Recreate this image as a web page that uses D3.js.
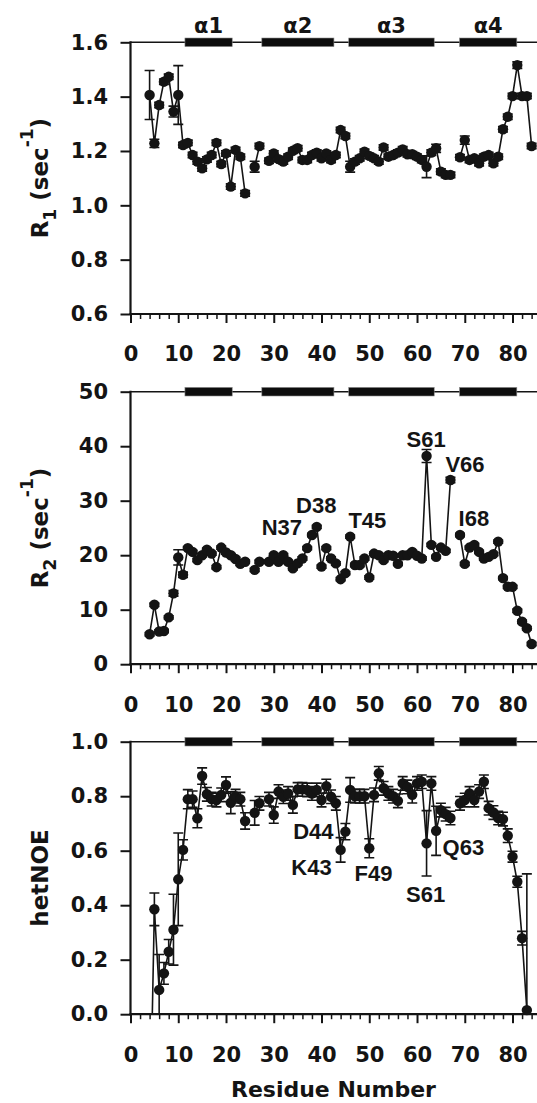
<!DOCTYPE html>
<meta charset="utf-8">
<script src="https://d3js.org/d3.v7.min.js"></script>
<body style="margin:0;background:#fff">
<div id="chart"></div>
<script>

// residue numbers as plotted on the x axis
var residues = [4,5,6,7,8,9,10,11,12,13,
  14,15,16,17,18,19,20,21,22,23,
  24,25,26,27,28,29,30,31,32,33,
  34,35,36,37,38,39,40,41,42,43,
  44,45,46,47,48,49,50,51,52,53,
  54,55,56,57,58,59,60,61,62,63,
  64,65,66,67,68,69,70,71,72,73,
  74,75,76,77,78,79,80,81,82,83,
  84];

var r1 = [1.406,1.228,1.369,1.455,1.473,1.345,1.406,1.222,1.230,1.185,
  1.161,1.136,1.169,1.185,1.230,1.152,1.191,1.069,1.204,1.179,
  1.044,null,1.142,1.218,null,1.164,1.191,1.170,1.161,1.179,
  1.201,1.210,1.167,1.167,1.185,1.194,1.173,1.191,1.167,1.185,
  1.277,1.255,1.142,1.161,1.173,1.197,1.182,1.173,1.161,1.213,
  1.179,1.185,1.194,1.206,1.188,1.188,1.179,1.167,1.142,1.194,
  1.210,1.124,1.112,1.112,null,1.177,1.240,1.167,1.173,1.155,
  1.179,1.185,1.155,1.179,1.280,1.326,1.402,1.516,1.402,1.402,
  1.218];
var r1Err = [0.09,0.015,0.01,0.01,0.01,0.02,0.108,0.01,0.01,0.01,
  0.01,0.01,0.01,0.01,0.01,0.01,0.01,0.01,0.01,0.01,
  0.01,null,0.02,0.01,null,0.01,0.01,0.01,0.01,0.01,
  0.01,0.01,0.01,0.01,0.01,0.01,0.01,0.01,0.01,0.01,
  0.01,0.01,0.02,0.01,0.01,0.01,0.01,0.01,0.01,0.01,
  0.01,0.01,0.01,0.01,0.01,0.01,0.01,0.01,0.04,0.01,
  0.015,0.01,0.01,0.01,null,0.01,0.015,0.01,0.01,0.01,
  0.01,0.01,0.01,0.01,0.01,0.01,0.01,0.012,0.01,0.01,
  0.01];

var r2 = [5.5,10.9,6.0,6.1,8.6,13.0,19.6,16.4,21.3,20.6,
  19.1,20.0,21.0,20.3,17.8,21.4,20.5,20.0,19.3,18.4,
  18.8,null,17.3,18.8,null,18.8,20.0,18.8,20.0,18.8,
  17.6,18.5,19.4,21.3,23.7,25.2,17.9,21.3,19.4,18.5,
  15.6,16.7,23.4,18.2,18.2,19.4,15.9,20.3,20.0,19.1,
  20.0,19.9,18.4,20.0,20.0,20.6,19.9,19.4,38.2,21.9,
  19.7,21.4,20.8,33.8,null,23.7,18.4,21.4,21.9,20.6,
  19.4,19.7,20.2,22.5,15.8,14.2,14.2,9.8,7.8,6.6,
  3.7];
var r2Err = [0.3,0.3,0.3,0.3,0.3,0.5,1.4,0.5,0.3,0.3,
  0.3,0.3,0.3,0.3,0.3,0.3,0.3,0.3,0.3,0.3,
  0.3,null,0.3,0.3,null,0.3,0.3,0.3,0.3,0.3,
  0.3,0.3,0.3,0.3,0.3,0.3,0.3,0.3,0.3,0.3,
  0.3,0.3,0.3,0.3,0.3,0.3,0.3,0.3,0.3,0.3,
  0.3,0.3,0.3,0.3,0.3,0.3,0.3,0.3,1.2,0.3,
  0.3,0.3,0.3,0.5,null,0.3,0.3,0.3,0.3,0.3,
  0.3,0.3,0.3,0.3,0.3,0.3,0.3,0.3,0.3,0.3,
  0.3];

var noe = [-0.5,0.385,0.089,0.150,0.229,0.310,0.495,0.603,0.789,0.789,
  0.719,0.874,0.807,0.789,0.786,0.805,0.841,0.776,0.800,0.789,
  0.709,null,0.739,0.774,null,0.789,0.731,0.817,0.798,0.810,
  0.768,0.825,0.825,0.823,0.810,0.823,0.786,0.837,0.798,0.774,
  0.603,0.670,0.823,0.800,0.800,0.800,0.609,0.805,0.884,0.829,
  0.810,0.800,0.783,0.847,0.834,0.805,0.847,0.853,0.627,0.847,
  0.673,0.749,0.734,0.720,null,0.774,0.786,0.810,0.786,0.817,
  0.853,0.756,0.740,0.720,0.716,0.655,0.578,0.486,0.279,0.015,
  null];
var noeErr = [0.05,0.06,0.13,0.04,0.045,0.13,0.17,0.037,0.035,0.03,
  0.035,0.03,0.025,0.025,0.025,0.025,0.03,0.04,0.025,0.025,
  0.03,null,0.045,0.025,null,0.025,0.03,0.025,0.025,0.025,
  0.03,0.025,0.025,0.025,0.025,0.025,0.025,0.025,0.025,0.025,
  0.045,0.03,0.045,0.025,0.025,0.025,0.035,0.025,0.025,0.025,
  0.025,0.025,0.025,0.025,0.025,0.03,0.025,0.025,0.12,0.025,
  0.09,0.025,0.025,0.025,null,0.025,0.025,0.025,0.025,0.025,
  0.025,0.025,0.025,0.025,0.025,0.025,0.02,0.02,0.025,0.5,
  null];

// secondary structure on top of each panel
var helixNames = ["α1", "α2", "α3", "α4"];
var helixStart = [11.4, 27.5, 45.7, 68.9];
var helixEnd = [21.3, 42.6, 63.6, 80.9];

var xTicks = [0, 10, 20, 30, 40, 50, 60, 70, 80];
var r1Ticks = [0.6, 0.8, 1.0, 1.2, 1.4, 1.6];
var r2Ticks = [0, 10, 20, 30, 40, 50];
var noeTicks = [0.0, 0.2, 0.4, 0.6, 0.8, 1.0];

// labelled residues [text, x, y]
var r2Labels = [["N37", 31.7, 23.7], ["D38", 38.9, 27.7], ["T45", 49.6, 24.9],
  ["S61", 61.9, 39.9], ["V66", 70.05, 35.3], ["I68", 71.9, 25.4]];
var noeLabels = [["D44", 38.3, 0.643], ["K43", 37.9, 0.511], ["F49", 50.9, 0.49],
  ["S61", 61.8, 0.413], ["Q63", 69.7, 0.584]];

var axisFont = "'DejaVu Sans', sans-serif";
var labelFont = "'Liberation Sans', Arial, sans-serif";
var ink = "#141414";

var width = 537, height = 1103;
var svg = d3.select("#chart").append("svg")
  .attr("width", width)
  .attr("height", height)
  .style("background", "#fff");

var x = d3.scaleLinear().domain([0, 85]).range([130.5, 536.4]);

var panels = [
  {top: 42.3, bottom: 314, domain: [0.6, 1.6], ticks: r1Ticks, fmt: d3.format(".1f"),
   vals: r1, errs: r1Err, title: "R", sub: "1", labels: [], helixText: true},
  {top: 391.7, bottom: 664.2, domain: [0, 50], ticks: r2Ticks, fmt: d3.format("d"),
   vals: r2, errs: r2Err, title: "R", sub: "2", labels: r2Labels, helixText: false},
  {top: 741.7, bottom: 1014.2, domain: [0, 1], ticks: noeTicks, fmt: d3.format(".1f"),
   vals: noe, errs: noeErr, title: "hetNOE", labels: noeLabels, helixText: false}
];

panels.forEach(function(p, i) {
  var y = d3.scaleLinear().domain(p.domain).range([p.bottom, p.top]);
  var g = svg.append("g");

  var clipId = "clip" + i;
  svg.append("clipPath").attr("id", clipId)
    .append("rect")
      .attr("x", 128).attr("y", p.top - 15)
      .attr("width", 420).attr("height", p.bottom - p.top + 15);

  var pts = residues.map(function(r, k) { return {r: r, v: p.vals[k], e: p.errs[k]}; });

  // y axis
  var yAxis = g.append("g")
    .attr("transform", "translate(" + x(0) + ",0)")
    .call(d3.axisLeft(y).tickValues(p.ticks).tickFormat(p.fmt).tickSize(10).tickPadding(12.5));
  yAxis.select(".domain").remove();
  yAxis.selectAll("line").attr("stroke", ink).attr("stroke-width", 2);
  yAxis.selectAll("text")
    .attr("fill", ink)
    .style("font-family", axisFont)
    .style("font-weight", "bold")
    .style("font-size", "21px");

  // x axis: minor and major ticks
  var xMinor = g.append("g")
    .attr("transform", "translate(0," + p.bottom + ")")
    .call(d3.axisBottom(x).tickValues(d3.range(2, 86, 2).filter(function(d) { return d % 10 != 0; }))
      .tickSize(5).tickFormat(""));
  xMinor.select(".domain").remove();
  xMinor.selectAll("line").attr("stroke", ink).attr("stroke-width", 1.5);

  var xAxis = g.append("g")
    .attr("transform", "translate(0," + p.bottom + ")")
    .call(d3.axisBottom(x).tickValues(xTicks).tickSize(9).tickPadding(23.5));
  xAxis.select(".domain").remove();
  xAxis.selectAll("line").attr("stroke", ink).attr("stroke-width", 2);
  xAxis.selectAll("text")
    .attr("fill", ink)
    .style("font-family", axisFont)
    .style("font-weight", "bold")
    .style("font-size", "21px");

  // frame lines
  g.append("line")
    .attr("x1", x(0)).attr("x2", x(0))
    .attr("y1", p.bottom + 1).attr("y2", p.top - 1)
    .attr("stroke", ink).attr("stroke-width", 2.2);
  g.append("line")
    .attr("x1", x(0) - 1).attr("x2", width)
    .attr("y1", p.bottom).attr("y2", p.bottom)
    .attr("stroke", ink).attr("stroke-width", 2.2);
  g.append("line")
    .attr("x1", x(0)).attr("x2", width)
    .attr("y1", p.top).attr("y2", p.top)
    .attr("stroke", ink).attr("stroke-width", 1.6);

  // helices
  g.selectAll(".helix")
    .data(helixNames)
    .enter()
    .append("rect")
      .attr("x", function(d, k) { return x(helixStart[k]); })
      .attr("width", function(d, k) { return x(helixEnd[k]) - x(helixStart[k]); })
      .attr("y", p.top - 4.3)
      .attr("height", 8.6)
      .attr("fill", "#0d0d0d")
      .attr("stroke", "#8a8a8a")
      .attr("stroke-width", 0.6);

  if (p.helixText) {
    g.selectAll(".hname")
      .data(helixNames)
      .enter()
      .append("text")
        .attr("x", function(d, k) { return x((helixStart[k] + helixEnd[k]) / 2); })
        .attr("y", p.top - 9)
        .attr("text-anchor", "middle")
        .attr("fill", ink)
        .style("font-family", axisFont)
        .style("font-weight", "bold")
        .style("font-size", "21px")
        .text(function(d) { return d; });
  }

  var data = g.append("g").attr("clip-path", "url(#" + clipId + ")");

  // error bars
  var eb = data.selectAll(".eb")
    .data(pts.filter(function(d) { return d.v != null && d.e != null; }))
    .enter()
    .append("g")
      .attr("stroke", ink)
      .attr("stroke-width", 1.6);
  eb.append("line")
    .attr("x1", function(d) { return x(d.r); })
    .attr("x2", function(d) { return x(d.r); })
    .attr("y1", function(d) { return y(d.v - d.e); })
    .attr("y2", function(d) { return y(d.v + d.e); });
  eb.append("line")
    .attr("x1", function(d) { return x(d.r) - 5; })
    .attr("x2", function(d) { return x(d.r) + 5; })
    .attr("y1", function(d) { return y(d.v + d.e); })
    .attr("y2", function(d) { return y(d.v + d.e); });
  eb.append("line")
    .attr("x1", function(d) { return x(d.r) - 5; })
    .attr("x2", function(d) { return x(d.r) + 5; })
    .attr("y1", function(d) { return y(d.v - d.e); })
    .attr("y2", function(d) { return y(d.v - d.e); });

  // connecting line, broken at missing residues
  data.append("path")
    .datum(pts)
    .attr("fill", "none")
    .attr("stroke", ink)
    .attr("stroke-width", 1.6)
    .attr("d", d3.line()
      .defined(function(d) { return d.v != null; })
      .x(function(d) { return x(d.r); })
      .y(function(d) { return y(d.v); }));

  g.selectAll(".dot")
    .data(pts.filter(function(d) { return d.v != null && d.v >= p.domain[0]; }))
    .enter()
    .append("circle")
      .attr("cx", function(d) { return x(d.r); })
      .attr("cy", function(d) { return y(d.v); })
      .attr("r", 5.2)
      .attr("fill", ink);

  // residue labels
  g.selectAll(".lab")
    .data(p.labels)
    .enter()
    .append("text")
      .attr("x", function(d) { return x(d[1]); })
      .attr("y", function(d) { return y(d[2]); })
      .attr("text-anchor", "middle")
      .attr("fill", ink)
      .style("font-family", labelFont)
      .style("font-weight", "bold")
      .style("font-size", "22px")
      .text(function(d) { return d[0]; });

  // y title
  var t = g.append("text")
    .attr("transform", "translate(48," + ((p.top + p.bottom) / 2) + ") rotate(-90)")
    .attr("text-anchor", "middle")
    .attr("fill", ink)
    .style("font-family", axisFont)
    .style("font-weight", "bold")
    .style("font-size", "23px");
  if (p.sub) {
    t.append("tspan").text(p.title);
    t.append("tspan").attr("dy", 8).style("font-size", "17px").text(p.sub);
    t.append("tspan").attr("dy", -8).text(" (sec");
    t.append("tspan").attr("dy", -15).style("font-size", "17px").text("-1");
    t.append("tspan").attr("dy", 15).text(")");
  } else {
    t.text(p.title);
  }
});

svg.append("text")
  .attr("x", x(42.5))
  .attr("y", 1097)
  .attr("text-anchor", "middle")
  .attr("fill", ink)
  .style("font-family", axisFont)
  .style("font-weight", "bold")
  .style("font-size", "22px")
  .text("Residue Number");

</script>
</body>
